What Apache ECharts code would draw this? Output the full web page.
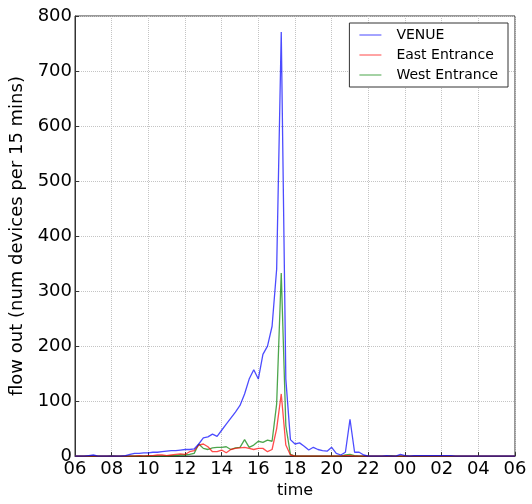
<!DOCTYPE html>
<html>
<head>
<meta charset="utf-8">
<script src="https://cdn.jsdelivr.net/npm/echarts@6/dist/echarts.min.js"></script>
<style>
  html, body { margin: 0; padding: 0; background: #fff; }
  #chart { width: 532px; height: 504px; }
</style>
</head>
<body>
<div id="chart"></div>
<script>
// quarter-hour slots, 06:00 -> 06:00 next day
const times = [
  '06:00','06:15','06:30','06:45','07:00','07:15','07:30','07:45',
  '08:00','08:15','08:30','08:45','09:00','09:15','09:30','09:45',
  '10:00','10:15','10:30','10:45','11:00','11:15','11:30','11:45',
  '12:00','12:15','12:30','12:45','13:00','13:15','13:30','13:45',
  '14:00','14:15','14:30','14:45','15:00','15:15','15:30','15:45',
  '16:00','16:15','16:30','16:45','17:00','17:15','17:30','17:45',
  '18:00','18:15','18:30','18:45','19:00','19:15','19:30','19:45',
  '20:00','20:15','20:30','20:45','21:00','21:15','21:30','21:45',
  '22:00','22:15','22:30','22:45','23:00','23:15','23:30','23:45',
  '00:00','00:15','00:30','00:45','01:00','01:15','01:30','01:45',
  '02:00','02:15','02:30','02:45','03:00','03:15','03:30','03:45',
  '04:00','04:15','04:30','04:45','05:00','05:15','05:30','05:45',
  '06:00'
];

const venue = [
  0, 0, 0, 1, 2, 0, 0, 0,
  0, 0, 0, 1, 3, 5, 5, 6,
  6, 7, 7, 8, 9, 10, 10, 11,
  12, 12, 13, 22, 33, 35, 40, 36,
  47, 58, 69, 80, 92, 113, 140, 157,
  140, 185, 200, 236, 340, 771, 140, 30,
  22, 24, 18, 11, 16, 12, 10, 9,
  16, 5, 2, 7, 67, 7, 7, 2,
  0, 0, 0, 0, 1, 0, 0, 3,
  1, 0, 1, 1, 1, 1, 1, 1,
  1, 1, 1, 0, 0, 0, 0, 0,
  0, 0, 0, 0, 0, 0, 0, 0,
  0
];

const eastEntrance = [
  0, 0, 0, 0, 0, 0, 0, 0,
  0, 0, 0, 0, 0, 0, 1, 0,
  1, 1, 2, 2, 1, 2, 3, 4,
  3, 8, 10, 20, 22, 17, 8, 8,
  11, 6, 12, 14, 15, 16, 14, 12,
  14, 14, 8, 12, 50, 113, 20, 2,
  0, 0, 0, 0, 0, 0, 0, 0,
  0, 0, 0, 1, 1, 0, 0, 0,
  0, 0, 0, 0, 0, 0, 0, 0,
  0, 0, 0, 0, 0, 0, 0, 0,
  0, 0, 0, 0, 0, 0, 0, 0,
  0, 0, 0, 0, 0, 0, 0, 0,
  0
];

const westEntrance = [
  0, 0, 0, 0, 0, 0, 0, 0,
  1, 0, 0, 0, 0, 0, 0, 0,
  0, 0, 0, 0, 0, 1, 1, 2,
  2, 3, 5, 22, 14, 12, 15, 16,
  16, 17, 12, 15, 16, 30, 16, 20,
  27, 25, 29, 27, 95, 333, 55, 3,
  0, 0, 0, 0, 0, 0, 0, 0,
  0, 0, 0, 2, 3, 1, 0, 0,
  0, 0, 0, 0, 0, 1, 0, 0,
  0, 0, 0, 0, 0, 0, 0, 0,
  0, 0, 0, 0, 0, 0, 0, 0,
  0, 0, 0, 0, 0, 0, 0, 0,
  0
];

const seriesNames = ['VENUE', 'East Entrance', 'West Entrance'];
const seriesColors = ['#0000ff', '#ff0000', '#008000'];
const seriesData = [venue, eastEntrance, westEntrance];

const font = 'DejaVu Sans';
const chart = echarts.init(document.getElementById('chart'));

const option = {
  animation: false,
  backgroundColor: '#fff',
  grid: {
    left: 75, right: 17, top: 16, bottom: 41,
    show: true, borderColor: '#333', borderWidth: 1, backgroundColor: 'transparent'
  },
  legend: {
    data: seriesNames,
    orient: 'vertical',
    right: 24, top: 23,
    icon: 'rect',
    itemWidth: 22, itemHeight: 1.2,
    itemGap: 6,
    padding: [5, 10, 5, 10],
    backgroundColor: '#fff',
    borderColor: '#333', borderWidth: 1, borderRadius: 0,
    itemStyle: { opacity: 0.6 },
    textStyle: { fontFamily: font, fontSize: 14, color: '#000', padding: [0, 0, 0, 10] }
  },
  xAxis: {
    type: 'category',
    data: times,
    boundaryGap: false,
    name: 'time',
    nameLocation: 'middle',
    nameGap: 22,
    nameTextStyle: { fontFamily: font, fontSize: 16, color: '#000' },
    axisLine: { show: true, lineStyle: { color: '#333', width: 1 } },
    axisTick: { show: true, inside: true, length: 4, interval: 7, lineStyle: { color: '#333' } },
    axisLabel: {
      interval: 7, margin: 4,
      fontFamily: font, fontSize: 18, color: '#000',
      formatter: v => v.slice(0, 2)
    },
    splitLine: { show: true, interval: 7, lineStyle: { color: '#c4c4c4', type: 'dotted', width: 1 } }
  },
  yAxis: {
    type: 'value',
    min: 0, max: 800, interval: 100,
    name: 'flow out (num devices per 15 mins)',
    nameLocation: 'middle',
    nameGap: 46,
    nameTextStyle: { fontFamily: font, fontSize: 18, color: '#000' },
    axisLine: { show: true, lineStyle: { color: '#333', width: 1 } },
    axisTick: { show: true, inside: true, length: 4, lineStyle: { color: '#333' } },
    axisLabel: { margin: 3, fontFamily: font, fontSize: 18, color: '#000' },
    splitLine: { show: true, lineStyle: { color: '#c4c4c4', type: 'dotted', width: 1 } }
  },
  series: seriesNames.map((name, i) => ({
    name: name,
    type: 'line',
    data: seriesData[i],
    showSymbol: false,
    color: seriesColors[i],
    lineStyle: { width: 1.3, opacity: 0.7, color: seriesColors[i] },
    z: 3 - i
  }))
};

chart.setOption(option);
</script>
</body>
</html>
